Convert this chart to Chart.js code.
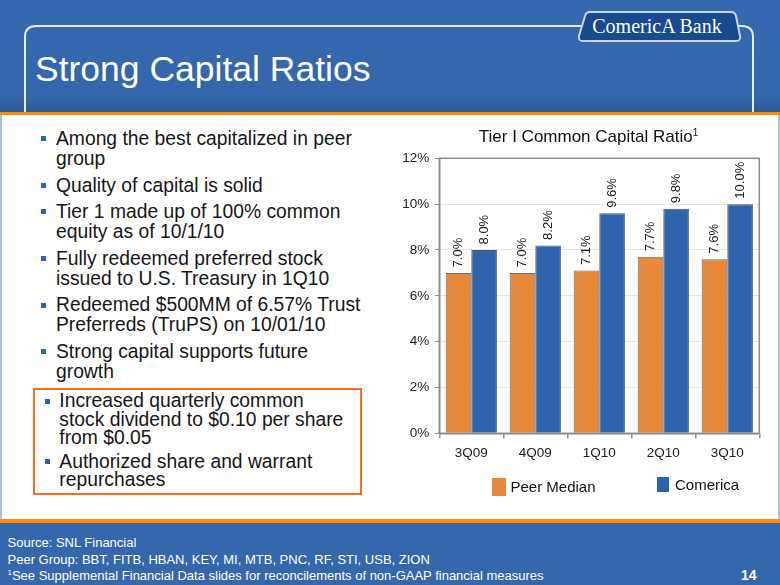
<!DOCTYPE html>
<html>
<head>
<meta charset="utf-8">
<script src="https://cdn.jsdelivr.net/npm/chart.js@4.4.0/dist/chart.umd.min.js"></script>
<style>
  html, body { margin: 0; padding: 0; }
  body { width: 780px; height: 585px; overflow: hidden; position: relative; background: #3567ad; font-family: "Liberation Sans", Arial, sans-serif; }
  .abs { position: absolute; }
  #header { left: 0; top: 0; width: 780px; height: 112px; background: linear-gradient(#3569af, #3466ab 85%, #2c5a9a 100%); }
  #title { left: 35px; top: 48.9px; font-size: 35.5px; line-height: 40px; color: #fff; white-space: nowrap; }
  .orange { left: 0; width: 780px; height: 3.5px; background: #ff8a0a; }
  #content { left: 0; top: 115px; width: 776px; height: 404px; background: #fff; border-left: 2px solid #a9c0e0; border-right: 2px solid #a9c0e0; }
  .bullets { left: 0; width: 390px; color: #161616; }
  .bullets p { position: relative; margin: 0; white-space: nowrap; }
  .bullets p::before { content: ""; position: absolute; width: 5px; height: 5px; background: #2e63ae; }
  #list1 { top: 129px; font-size: 19.3px; line-height: 20px; }
  #list1 p { padding-left: 56px; margin-bottom: 6.6px; }
  #list1 p::before { left: 41px; top: 7.2px; }
  #box { left: 33px; top: 387.7px; width: 325px; height: 103.5px; border: 2.5px solid #ff6b1a; }
  #list2 { top: 392.4px; font-size: 19.3px; line-height: 18.4px; }
  #list2 p { padding-left: 59.3px; margin-bottom: 4.9px; }
  #list2 p::before { left: 44.5px; top: 6.4px; }
  #chartTitle { left: 390px; width: 397px; top: 126.8px; text-align: center; font-size: 17px; line-height: 20px; color: #111; white-space: nowrap; }
  #chartTitle sup { font-size: 10px; vertical-align: 6px; line-height: 0; }
  .key { font-size: 15px; line-height: 18px; color: #111; white-space: nowrap; }
  #footer { left: 7.5px; top: 535px; font-size: 13px; line-height: 16.7px; color: #fff; white-space: nowrap; }
  #footer sup { font-size: 8px; vertical-align: 5px; line-height: 0; }
  #page { left: 741px; top: 567px; font-size: 14px; font-weight: bold; line-height: 16px; color: #fff; }
</style>
</head>
<body>
<div id="header" class="abs"></div>
<svg class="abs" style="left:0;top:0" width="780" height="115">
  <path d="M25,113 V37 Q25,26 36,26 H586 M733,26 H742 Q753,26 753,37 V113" fill="none" stroke="#e6ecf5" stroke-width="2"/>
  <path d="M590,12 H731 Q735,12 736,16 L740,36 Q741,41 736,41 H583 Q578,41 579,36 L585,16 Q586,12 590,12 Z" fill="#174a8e" stroke="#c9d6ea" stroke-width="2"/>
  <text x="657" y="33" text-anchor="middle" font-family="Liberation Serif, Times New Roman, serif" font-size="20" fill="#fff">ComericA Bank</text>
</svg>
<div id="title" class="abs">Strong Capital Ratios</div>
<div class="abs orange" style="top:112px"></div>
<div id="content" class="abs"></div>
<div class="abs orange" style="top:519px"></div>

<div id="list1" class="abs bullets">
  <p>Among the best capitalized in peer<br>group</p>
  <p>Quality of capital is solid</p>
  <p>Tier 1 made up of 100% common<br>equity as of 10/1/10</p>
  <p>Fully redeemed preferred stock<br>issued to U.S. Treasury in 1Q10</p>
  <p>Redeemed $500MM of 6.57% Trust<br>Preferreds (TruPS) on 10/01/10</p>
  <p>Strong capital supports future<br>growth</p>
</div>
<div id="box" class="abs"></div>
<div id="list2" class="abs bullets">
  <p>Increased quarterly common<br>stock dividend to $0.10 per share<br>from $0.05</p>
  <p>Authorized share and warrant<br>repurchases</p>
</div>

<canvas id="ratioChart" class="abs" style="left:390px;top:120px" width="385" height="360"></canvas>
<div id="chartTitle" class="abs">Tier I Common Capital Ratio<sup>1</sup></div>

<div class="abs" style="left:491.7px;top:477.7px;width:14px;height:18px;background:#e8893a"></div>
<div class="abs key" style="left:510.5px;top:477.5px">Peer Median</div>
<div class="abs" style="left:656.7px;top:476.7px;width:12.6px;height:15.6px;background:#2e63ae"></div>
<div class="abs key" style="left:675px;top:475.5px">Comerica</div>

<div id="footer" class="abs">Source: SNL Financial<br>Peer Group: BBT, FITB, HBAN, KEY, MI, MTB, PNC, RF, STI, USB, ZION<br><sup>1</sup>See Supplemental Financial Data slides for reconcilements of non-GAAP financial measures</div>
<div id="page" class="abs">14</div>

<script>
// Tier I common capital ratio, in percent
var quarters = ["3Q09", "4Q09", "1Q10", "2Q10", "3Q10"];
var peerMedian = [7.0, 7.0, 7.1, 7.7, 7.6];
var comerica = [8.0, 8.2, 9.6, 9.8, 10.0];
var yTicks = [0, 2, 4, 6, 8, 10, 12];

var axisGray = "#8c8c8c";
var tickFont = { family: "'Liberation Sans', Arial, sans-serif", size: 13.5 };

// gray frame around the plot area
var plotFrame = {
    id: "plotFrame",
    afterDatasetsDraw: function (chart) {
        var a = chart.chartArea;
        var ctx = chart.ctx;
        ctx.save();
        ctx.strokeStyle = axisGray;
        ctx.lineWidth = 1.5;
        ctx.strokeRect(a.left, a.top, a.right - a.left, a.bottom - a.top);
        ctx.restore();
    }
};

// rotated value labels above each bar
var barValueLabels = {
    id: "barValueLabels",
    afterDatasetsDraw: function (chart) {
        var ctx = chart.ctx;
        ctx.save();
        ctx.fillStyle = "#1a1a1a";
        ctx.font = "13px 'Liberation Sans', Arial, sans-serif";
        ctx.textAlign = "left";
        ctx.textBaseline = "middle";
        chart.data.datasets.forEach(function (ds, i) {
            chart.getDatasetMeta(i).data.forEach(function (bar, j) {
                ctx.save();
                ctx.translate(bar.x, bar.y - 5.5);
                ctx.rotate(-Math.PI / 2);
                ctx.fillText(ds.data[j].toFixed(1) + "%", 0, 0);
                ctx.restore();
            });
        });
        ctx.restore();
    }
};

var ratioChart = new Chart(document.getElementById("ratioChart"), {
    type: "bar",
    data: {
        labels: quarters,
        datasets: [
            {
                label: "Peer Median",
                data: peerMedian,
                backgroundColor: "#e8893a",
                borderColor: "#6a6a6a",
                borderWidth: 1,
            },
            {
                label: "Comerica",
                data: comerica,
                backgroundColor: "#2e63ae",
                borderColor: "#555",
                borderWidth: 1,
            },
        ],
    },
    options: {
        responsive: false,
        animation: false,
        layout: { padding: { top: 38.3, right: 15.7, bottom: 6.7, left: 0 } },
        datasets: { bar: { categoryPercentage: 0.8, barPercentage: 1 } },
        plugins: {
            legend: { display: false },
            title: { display: false },
            tooltip: { enabled: false },
        },
        scales: {
            x: {
                grid: { drawOnChartArea: false, offset: true, tickLength: 5, color: axisGray, lineWidth: 1.5 },
                border: { color: axisGray, width: 1.5 },
                ticks: { color: "#1a1a1a", font: tickFont, padding: 7 },
                afterFit: function (s) { s.height = 40; },
            },
            y: {
                min: yTicks[0],
                max: yTicks[yTicks.length - 1],
                afterBuildTicks: function (s) {
                    s.ticks = yTicks.map(function (v) { return { value: v }; });
                },
                ticks: {
                    color: "#1a1a1a",
                    font: tickFont,
                    padding: 6,
                    callback: function (v) { return v + "%"; },
                },
                grid: { color: "#e4e4e4", tickColor: axisGray, tickLength: 4 },
                border: { color: axisGray, width: 1.5 },
                afterFit: function (s) { s.width = 49.3; },
            },
        },
    },
    plugins: [plotFrame, barValueLabels],
});
</script>
</body>
</html>
